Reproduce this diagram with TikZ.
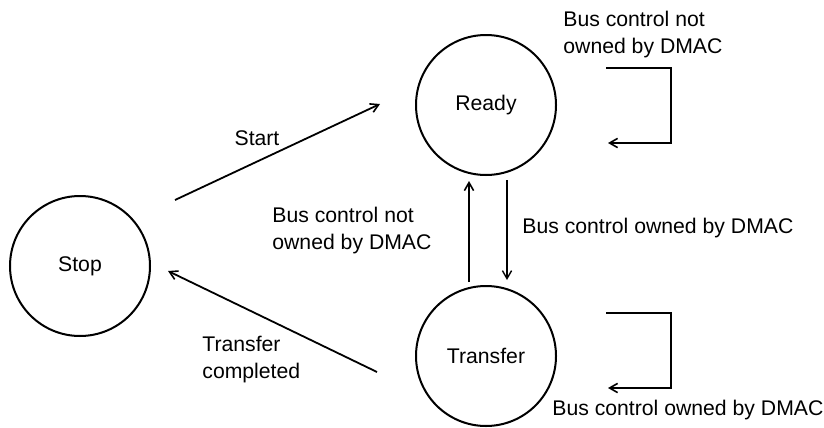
\documentclass[tikz,border=0pt]{standalone}
\usepackage{fontspec}
\setmainfont{Liberation Sans}
\usetikzlibrary{arrows.meta}
\begin{document}
\begin{tikzpicture}[x=0.5pt,y=-0.5pt,
  state/.style={draw,circle,line width=1pt,minimum size=70pt,inner sep=0pt,font=\fontsize{10.6}{13.5}\selectfont},
  lbl/.style={inner sep=0pt,align=left,anchor=west,font=\fontsize{10.6}{13.5}\selectfont},
  conn/.style={line width=0.9pt,-{Straight Barb[length=4pt,width=4.6pt,line width=0.8pt]}},
  thinconn/.style={line width=0.6pt,-{Straight Barb[length=4pt,width=4.6pt,line width=0.7pt]}}]
\useasboundingbox (0,0) rectangle (824,428);
\node[state] (stop) at (80,266) {Stop};
\node[state] (ready) at (486,105) {Ready};
\node[state] (transfer) at (486,356) {Transfer};
% Start
\coordinate (s1) at (175,200);
\coordinate (s2) at (380,104);
\draw[conn] (s1) -- (s2);
\node[lbl,anchor=center] (startlbl) at (257,138) {Start};
% Transfer completed
\coordinate (t1) at (377,372);
\coordinate (t2) at (168,271);
\draw[conn] (t1) -- (t2);
\node[lbl] (tclbl) at (202,360) {Transfer\\completed};
% vertical arrows
\coordinate (u1) at (469,282);
\coordinate (u2) at (469,181);
\draw[conn] (u1) -- (u2);
\coordinate (d1) at (507,180);
\coordinate (d2) at (507,280);
\draw[thinconn] (d1) -- (d2);
\node[lbl] (notlbl) at (272,230.5) {Bus control not\\owned by DMAC};
\node[lbl] (ownlbl) at (522,228) {Bus control owned by DMAC};
% top loop
\coordinate (a1) at (606,68);
\coordinate (a2) at (671,68);
\coordinate (a3) at (671,143);
\coordinate (a4) at (608,143);
\draw[conn] (a1) -- (a2) -- (a3) -- (a4);
\node[lbl] (toplbl) at (563,34.5) {Bus control not\\owned by DMAC};
% bottom loop
\coordinate (b1) at (606,313);
\coordinate (b2) at (671,313);
\coordinate (b3) at (671,388);
\coordinate (b4) at (608,388);
\draw[conn] (b1) -- (b2) -- (b3) -- (b4);
\node[lbl] (botlbl) at (552,410) {Bus control owned by DMAC};
\end{tikzpicture}
\end{document}
